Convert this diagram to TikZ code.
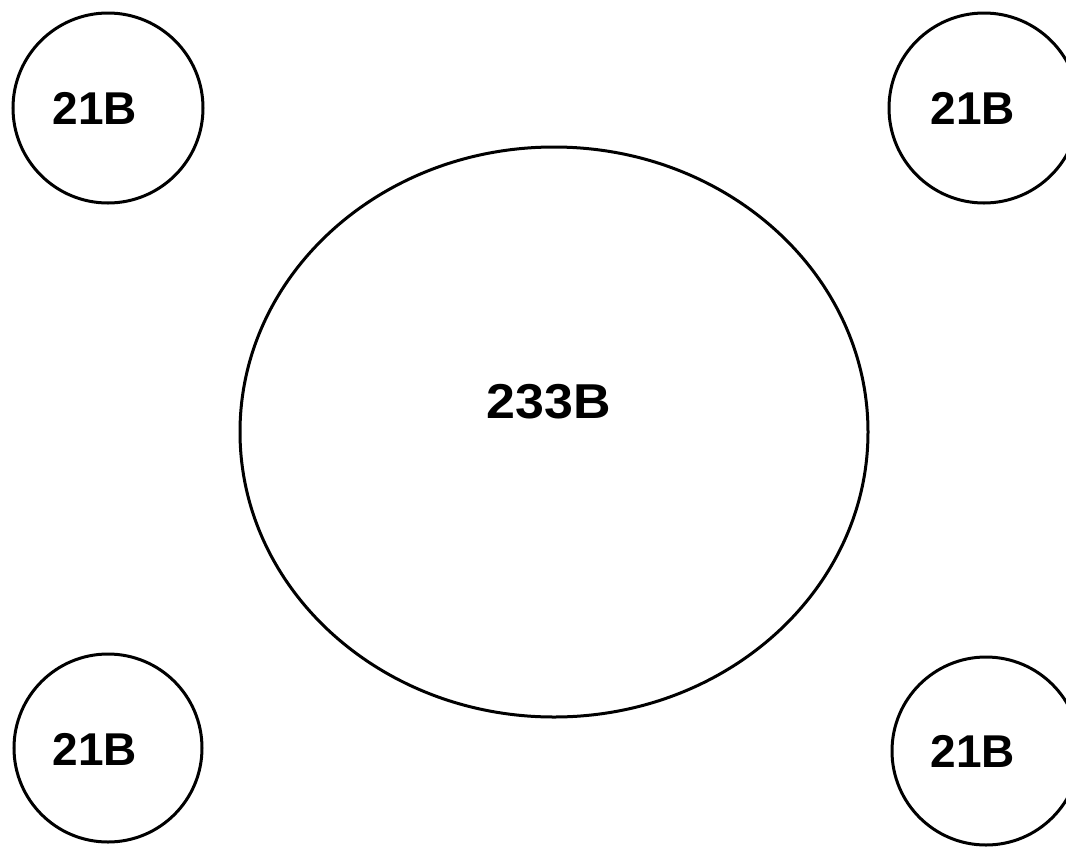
\documentclass[tikz,border=0pt]{standalone}
\usepackage{fontspec}
\setmainfont{Liberation Sans}
\begin{document}
\begin{tikzpicture}[x=1pt,y=-1pt,
  ring/.style={draw=black,line width=3pt,circle,inner sep=0pt},
  small/.style={font=\fontsize{46}{46}\selectfont\bfseries,inner sep=0pt},
  big/.style={font=\fontsize{49}{49}\selectfont\bfseries,inner sep=0pt,xscale=1.06}]
\useasboundingbox (0,0) rectangle (1066,847);
\node[ring,minimum size=190pt] (c1) at (108,108) {};
\node[ring,minimum size=190pt] (c2) at (984,108) {};
\node[ring,minimum size=188pt] (c3) at (108,748) {};
\node[ring,minimum size=188pt] (c4) at (986,751) {};
\draw[line width=3pt] (554,432) ellipse [x radius=314pt, y radius=285pt];
\coordinate (ec) at (554,432);
\node[small] (t1) at (95,108) {21B};
\node[small] (t2) at (973,108) {21B};
\node[small] (t3) at (95,749) {21B};
\node[small] (t4) at (973,751) {21B};
\node[big] (t5) at (549,402) {233B};
\end{tikzpicture}
\end{document}
